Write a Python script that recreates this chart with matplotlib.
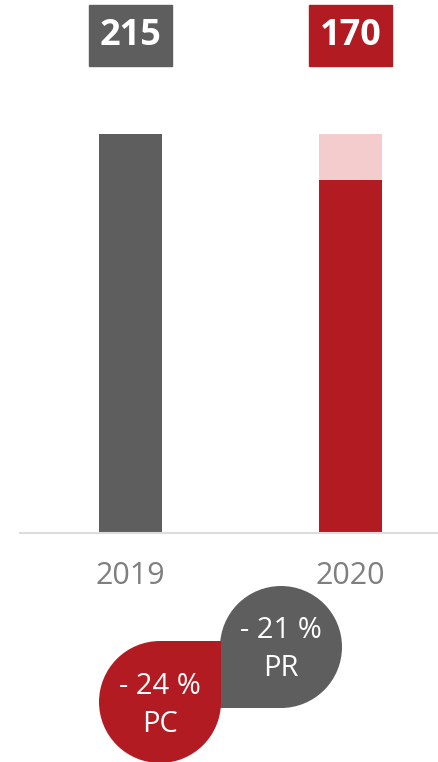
import matplotlib
matplotlib.use("Agg")
import matplotlib.pyplot as plt
from matplotlib.patches import Rectangle, Circle

plt.rcParams['font.family'] = ['Open Sans', 'DejaVu Sans']

years = ["2019", "2020"]
base_values = [215, 190]      # solid part of each bar
extra_values = [0, 25]        # light part stacked on top
labels = ["215", "170"]
bar_colors = ["#5e5e5e", "#b31b23"]
extra_color = "#f4cccd"
label_colors = ["#5e5e5e", "#b31b23"]

bubble_pc = ["- 24 %", "PC"]
bubble_pr = ["- 21 %", "PR"]

W, H = 439, 762
fig = plt.figure(figsize=(W / 100, H / 100), dpi=100)

# main bar axes, pixel placement
ax = fig.add_axes([20 / W, 229 / H, 419 / W, 533 / H])
x = list(range(len(years)))
ax.bar(x, base_values, width=0.286, color=bar_colors, zorder=2)
ax.bar(x, extra_values, bottom=base_values, width=0.286, color=extra_color, zorder=2)
ax.set_xlim(-0.502, 1.402)
ax.set_ylim(0, 287.2)

for s in ["top", "left", "right"]:
    ax.spines[s].set_visible(False)
ax.spines["bottom"].set_color("#dcdcdc")
ax.spines["bottom"].set_linewidth(1.5)
ax.set_yticks([])
ax.set_xticks(x)
ax.set_xticklabels(years, fontsize=22, color="#7f7f7f")
ax.tick_params(axis="x", length=0, pad=20)

# value boxes above bars
box_w, box_h, box_y = 0.373, 32.9, 251.5
for i, lab in enumerate(labels):
    ax.add_patch(Rectangle((x[i] - box_w / 2, box_y), box_w, box_h,
                           color=label_colors[i], clip_on=False, zorder=3))
    ax.text(x[i], box_y + box_h / 2, lab, ha="center", va="center",
            fontsize=26, fontweight="bold", color="white", zorder=4)

# overlay in pixel coords for the change bubbles
ov = fig.add_axes([0, 0, 1, 1])
ov.set_xlim(0, W)
ov.set_ylim(H, 0)
ov.axis("off")

r = 61
# grey bubble, square bottom-left corner
cx, cy = 281, 647
ov.add_patch(Circle((cx, cy), r, color="#5e5e5e", lw=0))
ov.add_patch(Rectangle((cx - r, cy), r, r, color="#5e5e5e", lw=0))
ov.text(cx, cy - 16, bubble_pr[0], ha="center", va="center", fontsize=21, color="white")
ov.text(cx, cy + 22, bubble_pr[1], ha="center", va="center", fontsize=21, color="white")

# red bubble, square top-right corner
cx, cy = 160, 702
ov.add_patch(Circle((cx, cy), r, color="#b31b23", lw=0))
ov.add_patch(Rectangle((cx, cy - r), r, r, color="#b31b23", lw=0))
ov.text(cx, cy - 16, bubble_pc[0], ha="center", va="center", fontsize=21, color="white")
ov.text(cx, cy + 22, bubble_pc[1], ha="center", va="center", fontsize=21, color="white")

fig.savefig("out.png", dpi=100)
